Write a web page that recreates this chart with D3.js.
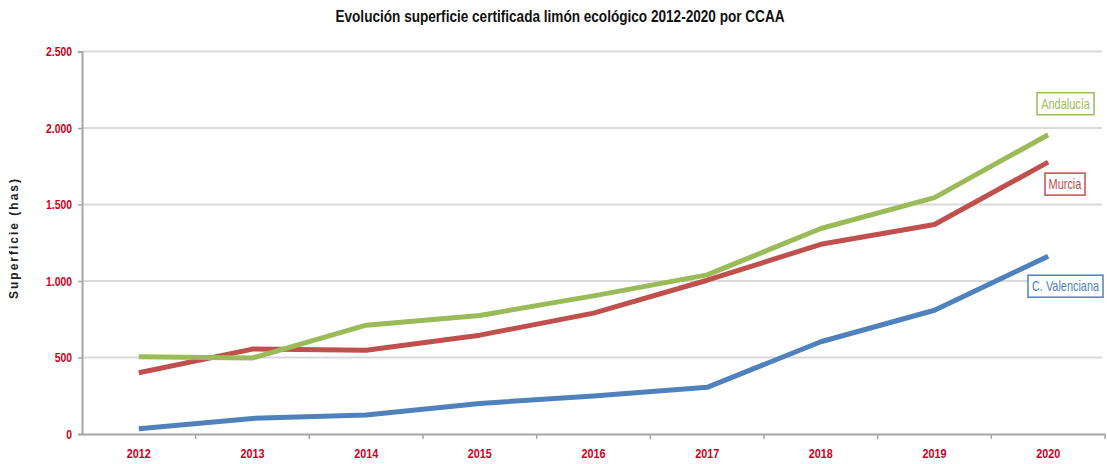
<!DOCTYPE html>
<html>
<head>
<meta charset="utf-8">
<script src="https://cdn.jsdelivr.net/npm/d3@7"></script>
<style>
  body { margin: 0; background: #fff; }
  text { font-family: "Liberation Sans", Arial, sans-serif; }
</style>
</head>
<body>
<div id="chart"></div>
<script>
// data
var years = ['2012', '2013', '2014', '2015', '2016', '2017', '2018', '2019', '2020'];
var andalucia = [505, 497, 711, 775, 903, 1040, 1343, 1545, 1956];
var murcia = [400, 555, 548, 646, 790, 1005, 1240, 1369, 1777];
var valenciana = [35, 102, 124, 200, 248, 305, 603, 809, 1162];
var yTicks = [0, 500, 1000, 1500, 2000, 2500];

var series = [
  { name: 'Andalucía', values: andalucia, color: '#9bbb59', box: { x: 1037, w: 57, dy: -31 } },
  { name: 'Murcia', values: murcia, color: '#c0504d', box: { x: 1045, w: 40, dy: 22 } },
  { name: 'C. Valenciana', values: valenciana, color: '#4f81bd', box: { x: 1028, w: 75, dy: 30 } }
];

var width = 1107, height = 464;
var narrow = 0.8; // no condensed font installed, squeeze by hand

var svg = d3.select('#chart').append('svg')
  .attr('width', width)
  .attr('height', height);

var x = d3.scaleBand().domain(years).range([82, 1105]);
var y = d3.scaleLinear().domain([0, 2500]).range([434, 51.5]);

var es = d3.formatLocale({ decimal: ',', thousands: '.', grouping: [3], currency: ['', '€'] });
var fmt = es.format(',d');

// gridlines
svg.append('g')
  .selectAll('line')
  .data(yTicks.filter(function (d) { return d > 0; }))
  .enter().append('line')
  .attr('x1', 82).attr('x2', 1102)
  .attr('y1', function (d) { return y(d); })
  .attr('y2', function (d) { return y(d); })
  .attr('stroke', '#d9d9d9')
  .attr('stroke-width', 2);

// y axis
var yAxis = svg.append('g')
  .attr('transform', 'translate(82,0)')
  .call(d3.axisLeft(y).tickValues(yTicks).tickFormat(fmt).tickSize(4));
yAxis.select('.domain').attr('stroke', '#a6a6a6').attr('stroke-width', 2);
yAxis.selectAll('.tick line').attr('stroke', '#a6a6a6').attr('stroke-width', 1.5);
yAxis.selectAll('.tick text')
  .attr('x', -10 / narrow)
  .attr('transform', 'scale(' + narrow + ',1)')
  .attr('fill', '#cc0022')
  .style('font-size', '13px')
  .style('font-weight', 'bold');

// x axis
var xAxis = svg.append('g')
  .attr('transform', 'translate(0,434)')
  .call(d3.axisBottom(x).tickSize(0).tickPadding(14));
xAxis.select('.domain').attr('stroke', '#a6a6a6').attr('stroke-width', 2);
xAxis.selectAll('.tick text')
  .attr('transform', 'scale(' + narrow + ',1)')
  .attr('fill', '#cc0022')
  .style('font-size', '13.5px')
  .style('font-weight', 'bold');
xAxis.selectAll('.bound')
  .data(years)
  .enter().append('line')
  .attr('class', 'bound')
  .attr('x1', function (d) { return x(d) + x.bandwidth(); })
  .attr('x2', function (d) { return x(d) + x.bandwidth(); })
  .attr('y1', 0).attr('y2', 5)
  .attr('stroke', '#a6a6a6')
  .attr('stroke-width', 1.5);

// lines
var line = d3.line()
  .x(function (d, i) { return x(years[i]) + x.bandwidth() / 2; })
  .y(function (d) { return y(d); });

series.slice().reverse().forEach(function (s) {
  svg.append('path')
    .datum(s.values)
    .attr('d', line)
    .attr('fill', 'none')
    .attr('stroke', s.color)
    .attr('stroke-width', 5)
    .attr('stroke-linejoin', 'round');
});

// series labels in boxes
series.forEach(function (s) {
  var cy = y(s.values[s.values.length - 1]) + s.box.dy;
  svg.append('rect')
    .attr('x', s.box.x).attr('y', cy - 11)
    .attr('width', s.box.w).attr('height', 22)
    .attr('fill', '#fff')
    .attr('stroke', s.color)
    .attr('stroke-width', 1.5);
  svg.append('text')
    .attr('transform', 'translate(' + (s.box.x + s.box.w / 2) + ',' + cy + ') scale(0.78,1)')
    .attr('dy', '0.36em')
    .attr('text-anchor', 'middle')
    .attr('fill', s.color)
    .style('font-size', '14px')
    .text(s.name);
});

// title
svg.append('text')
  .attr('transform', 'translate(560,22) scale(0.85,1)')
  .attr('text-anchor', 'middle')
  .style('font-size', '16px')
  .style('font-weight', 'bold')
  .attr('fill', '#111')
  .text('Evolución superficie certificada limón ecológico 2012-2020 por CCAA');

// y axis title
svg.append('text')
  .attr('transform', 'translate(18,238) rotate(-90)')
  .attr('text-anchor', 'middle')
  .style('font-size', '12px')
  .style('font-weight', 'bold')
  .style('letter-spacing', '2px')
  .attr('fill', '#222')
  .text('Superficie (has)');
</script>
</body>
</html>
